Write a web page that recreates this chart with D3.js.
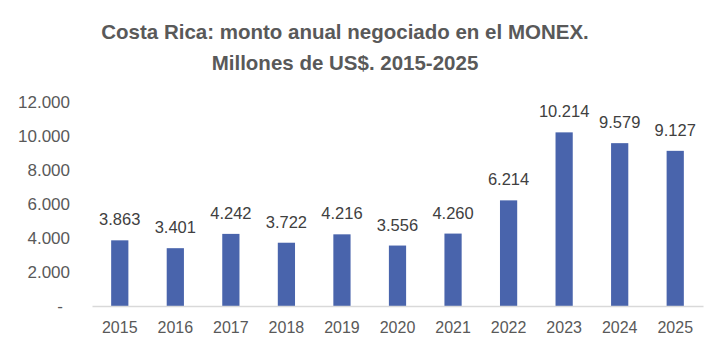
<!DOCTYPE html>
<html><head><meta charset="utf-8">
<script src="https://cdn.jsdelivr.net/npm/d3@7"></script>
<style>
html,body{margin:0;padding:0;background:#fff;}
svg{display:block;font-family:"Liberation Sans",Arial,sans-serif;}
</style></head>
<body><svg id="chart" width="727" height="356"></svg>
<script>
const categories = ["2015","2016","2017","2018","2019","2020","2021","2022","2023","2024","2025"];
const values = [3863,3401,4242,3722,4216,3556,4260,6214,10214,9579,9127];
const yTicks = [0,2000,4000,6000,8000,10000,12000];
const titleLines = ["Costa Rica: monto anual negociado en el MONEX.","Millones de US$. 2015-2025"];

const svg = d3.select("#chart");
const fmt = v => v === 0 ? "-" : d3.format(",")(v).replace(/,/g, ".");

const x = d3.scaleBand().domain(categories).range([92, 703]).paddingInner(0.69).paddingOuter(0.345);
const y = d3.scaleLinear().domain([0, 12000]).range([306, 102]);

// title
svg.append("g").selectAll("text").data(titleLines).join("text")
  .attr("x", 345).attr("y", (d,i) => 39 + i*31)
  .attr("text-anchor","middle")
  .attr("font-weight","bold").attr("font-size", 20.5).attr("fill","#595959")
  .text(d => d);

// y axis labels
const yAxis = d3.axisLeft(y).tickValues(yTicks).tickSize(0).tickPadding(0).tickFormat(fmt);
const ga = svg.append("g").attr("transform","translate(70,0)").call(yAxis);
ga.select(".domain").remove();
ga.selectAll("text").attr("font-size",17).attr("fill","#595959").attr("font-family","Liberation Sans, Arial, sans-serif");
ga.selectAll(".tick").filter(d => d === 0).select("text").attr("dx", -7);

// bars
svg.append("g").selectAll("rect").data(values).join("rect")
  .attr("x", (d,i) => x(categories[i]))
  .attr("width", x.bandwidth())
  .attr("y", d => y(d))
  .attr("height", d => y(0) - y(d))
  .attr("fill","#4964ac");

// x axis
const xAxis = d3.axisBottom(x).tickSize(0).tickPadding(16);
const gx = svg.append("g").attr("transform",`translate(0,${y(0)})`).call(xAxis);
gx.select(".domain").attr("stroke","#d9d9d9").attr("stroke-width",1.5);
gx.selectAll("text").attr("font-size",16).attr("fill","#595959").attr("font-family","Liberation Sans, Arial, sans-serif");

// value labels
svg.append("g").selectAll("text").data(values).join("text")
  .attr("x", (d,i) => x(categories[i]) + x.bandwidth()/2)
  .attr("y", d => y(d) - 15)
  .attr("text-anchor","middle")
  .attr("font-size",16.5).attr("fill","#404040")
  .text(d => fmt(d));
</script></body></html>
